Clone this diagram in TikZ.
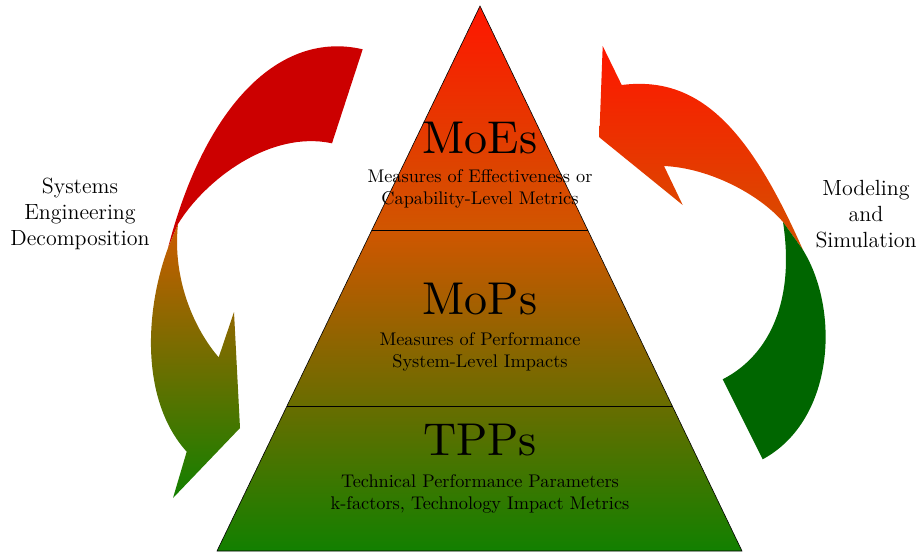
\documentclass[tikz,border=0pt]{standalone}
\usetikzlibrary{calc}
\definecolor{pyrtop}{RGB}{255,22,0}
\definecolor{pyrorange}{RGB}{208,86,0}
\definecolor{pyrmid}{RGB}{125,115,0}
\definecolor{pyrbot}{RGB}{18,128,0}
\definecolor{arrred}{RGB}{204,0,0}
\definecolor{arrgreen}{RGB}{0,102,0}
\definecolor{lorange}{RGB}{205,92,0}
\definecolor{lmid}{RGB}{130,112,0}
\definecolor{rtop}{RGB}{255,22,0}
\definecolor{rbot}{RGB}{212,82,0}
\begin{document}
\begin{tikzpicture}[x=1pt,y=-1pt,
  bigtitle/.style={scale=4.6,font=\fontsize{10}{12}\selectfont,inner sep=0pt},
  subtext/.style={scale=1.83,font=\normalsize,align=center,inner sep=0pt},
  sidetext/.style={scale=1.83,font=\large,align=center,inner sep=0pt},
  divider/.style={draw=black,line width=0.9pt}]
\useasboundingbox (0,0) rectangle (919,552);

% left arrow (systems engineering decomposition)
\fill[arrred] (362.7,49.3) .. controls (280,30) and (205,105) .. (168,248)
  -- (178,224) .. controls (205,180) and (270,130) .. (332,143.3) -- cycle;
\shade[top color=lorange, middle color=lmid, bottom color=pyrbot]
  (168,248) .. controls (145,310) and (140,400) .. (186.7,451.7)
  -- (173,498) -- (240,428) -- (234,312) -- (218.7,357.3)
  .. controls (195,330) and (172,280) .. (178,224) -- cycle;

% right arrow (modeling and simulation)
\shade[top color=rtop, bottom color=rbot]
  (621.7,85) .. controls (700,75) and (750,130) .. (803,250)
  -- (783,222) .. controls (760,195) and (710,168) .. (664,166)
  -- (682.7,205) -- (599.3,137.3) -- (602.7,46) -- cycle;
\fill[arrgreen] (783,222) -- (803,250) .. controls (840,310) and (835,420) .. (762.7,459.3)
  -- (722.7,379.3) .. controls (770,355) and (795,300) .. (783,222) -- cycle;

% pyramid
\coordinate (apex) at (480,6);
\coordinate (bl) at (217,551);
\coordinate (br) at (742,551);
\coordinate (l1) at ($(apex)!0.411!(bl)$);
\coordinate (r1) at ($(apex)!0.411!(br)$);
\coordinate (l2) at ($(apex)!0.734!(bl)$);
\coordinate (r2) at ($(apex)!0.734!(br)$);
\shade[top color=pyrtop, bottom color=pyrorange] (apex) -- (r1) -- (l1) -- cycle;
\shade[top color=pyrorange, middle color=pyrmid, bottom color=pyrbot] (l1) -- (r1) -- (br) -- (bl) -- cycle;
\draw[black, line width=0.6pt, line join=miter] (apex) -- (br) -- (bl) -- cycle;
\draw[divider] (l1) -- (r1);
\draw[divider] (l2) -- (r2);

\node[bigtitle] (moes) at (480,138) {MoEs};
\node[subtext] (moesd) at (480,189) {Measures of Effectiveness or\\Capability-Level Metrics};
\node[bigtitle] (mops) at (480,299) {MoPs};
\node[subtext] (mopsd) at (480,352) {Measures of Performance\\System-Level Impacts};
\node[bigtitle] (tpps) at (480,440) {TPPs};
\node[subtext] (tppsd) at (480,494) {Technical Performance Parameters\\k-factors, Technology Impact Metrics};

\node[sidetext] (sed) at (80,214) {Systems\\Engineering\\Decomposition};
\node[sidetext] (ms) at (866,214) {Modeling\\and\\Simulation};
\end{tikzpicture}
\end{document}
